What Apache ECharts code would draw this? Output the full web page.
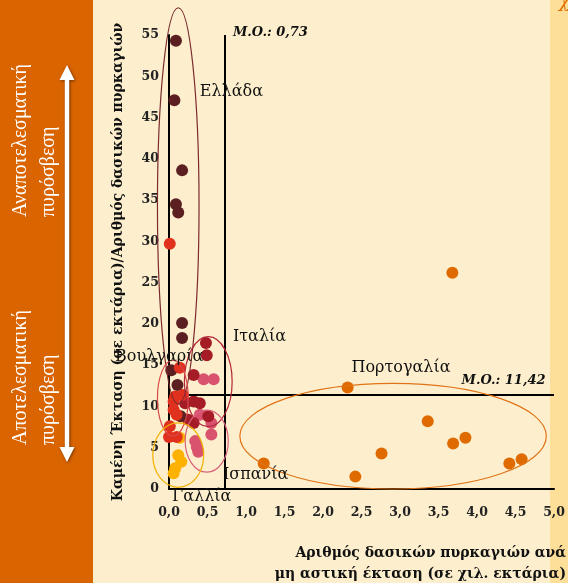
<!DOCTYPE html>
<html><head><meta charset="utf-8">
<script src="https://cdn.jsdelivr.net/npm/echarts@6/dist/echarts.min.js"></script>
<style>html,body{margin:0;padding:0;background:#FDEFCD}#c{width:568px;height:583px}</style>
</head><body><div id="c"></div>
<script>
// ---- data ----
const xTicks = [0, 0.5, 1, 1.5, 2, 2.5, 3, 3.5, 4, 4.5, 5];
const yTicks = [0, 5, 10, 15, 20, 25, 30, 35, 40, 45, 50, 55];
const greece   = [[0.09,54.3],[0.07,47.1],[0.17,38.6],[0.09,34.5],[0.12,33.5],[0.17,20.1],[0.17,18.3],[0.03,14.4],[0.11,12.6],[0.15,8.8]];
const bulgaria = [[0.01,29.7],[0.14,14.7],[0.18,11.4],[0.08,11.2],[0.06,10.6],[0.06,9.6],[0.10,9.0],[0.01,7.6],[0.0,6.3],[0.10,6.3]];
const italy    = [[0.48,17.7],[0.49,16.2],[0.32,13.8],[0.21,10.4],[0.32,10.6],[0.40,10.4],[0.51,8.8],[0.32,8.0],[0.25,8.4]];
const spain    = [[0.45,13.3],[0.58,13.3],[0.40,9.0],[0.55,8.0],[0.55,6.6],[0.34,5.8],[0.36,5.1],[0.38,4.5]];
const france   = [[0.14,6.2],[0.12,4.1],[0.16,3.3],[0.08,2.5],[0.06,1.9]];
const portugal = [[2.32,12.3],[3.36,8.2],[3.69,5.5],[3.85,6.2],[2.76,4.3],[1.23,3.1],[2.42,1.5],[4.42,3.1],[4.58,3.6],[3.68,26.2]];
const meanX = 0.73;
const meanY = 11.42;
const countryNames = ['Ελλάδα','Ιταλία','Βουλγαρία','Πορτογαλία','Ισπανία','Γαλλία'];
const meanLabels = ['M.O.: 0,73', 'M.O.: 11,42'];
const xTitle = 'Αριθμός δασικών πυρκαγιών ανά\nμη αστική έκταση (σε χιλ. εκτάρια)';
const yTitle = 'Καμένη Έκταση (σε εκτάρια)/Αριθμός δασικών πυρκαγιών';
const bandTop = 'Αναποτελεσματική\nπυρόσβεση';
const bandBottom = 'Αποτελεσματική\nπυρόσβεση';
// group ellipses in data units: [cx, cy, rx, ry]
const ellipses = [
  {c:[0.12,34.3], r:[0.27,24.0], color:'#7A2A2C'},
  {c:[0.51,13.0], r:[0.31,5.45], color:'#B3263A'},
  {c:[0.05,11.0], r:[0.20,4.6], color:'#D84848'},
  {c:[0.49,5.8], r:[0.28,3.76], color:'#D9607C'},
  {c:[0.12,4.1], r:[0.33,3.9], color:'#F2B000'},
  {c:[2.91,6.4], r:[1.99,6.4], color:'#E07318'}
];
// label anchors in data units
const labelPos = [[0.40,48.1],[0.83,18.4],[-0.70,16.0],[2.37,14.7],[0.70,1.7],[0.04,-1.0]];

const SERIF = '"DejaVu Serif", serif';
const chart = echarts.init(document.getElementById('c'));
function sc(name, data, color, z) {
  return {type:'scatter', name, data, symbolSize:12, z:z,
    itemStyle:{color:color, opacity:1}, silent:true};
}
const option = {
  animation:false,
  backgroundColor:'#FDEFCD',
  grid:{left:169, right:14, top:35, bottom:94},
  xAxis:{type:'value', min:0, max:5, interval:0.5,
    axisLine:{lineStyle:{color:'#000', width:2}}, axisTick:{show:false}, splitLine:{show:false},
    axisLabel:{margin:17, color:'#222', fontFamily:SERIF, fontWeight:'bold', fontSize:12.5,
      formatter:v=>v.toFixed(1).replace('.',',')}},
  yAxis:{type:'value', min:0, max:55, interval:5,
    axisLine:{show:true, lineStyle:{color:'#000', width:2}}, axisTick:{show:false}, splitLine:{show:false},
    axisLabel:{margin:10, color:'#222', fontFamily:SERIF, fontWeight:'bold', fontSize:12.5}},
  series:[
    Object.assign(sc('Πορτογαλία', portugal, '#DE6A00', 2), {
      markLine:{silent:true, symbol:'none', label:{show:false},
        lineStyle:{color:'#000', width:2, type:'solid'},
        data:[{xAxis:meanX},{yAxis:meanY}]}}),
    sc('Γαλλία', france, '#FDB100', 3),
    sc('Ισπανία', spain, '#D9536F', 3),
    sc('Ιταλία', italy, '#A51C26', 4),
    sc('Ελλάδα', greece, '#5B1F22', 5),
    sc('Βουλγαρία', bulgaria, '#E0311E', 6)
  ]
};
chart.setOption(option);

const px = p => chart.convertToPixel({gridIndex:0}, p);
const g = [];
// background pieces
g.push({type:'rect', z:-10, shape:{x:0,y:0,width:93,height:583}, style:{fill:'#D96400'}});
g.push({type:'rect', z:-10, shape:{x:550,y:0,width:18,height:583}, style:{fill:'#FDDF9A'}});
g.push({type:'text', z:-5, left:559, top:-7, style:{text:'χ', fill:'#E07000', font:'italic 18px '+SERIF}});
// arrow
g.push({type:'polygon', z:5, shape:{points:[[67,65],[74.5,80],[69.2,80],[69.2,447],[74.5,447],[67,462],[59.5,447],[64.8,447],[64.8,80],[59.5,80]]},
  style:{fill:'#fff', shadowBlur:3, shadowColor:'rgba(0,0,0,0.45)', shadowOffsetX:1, shadowOffsetY:1}});
// band texts
g.push({type:'text', z:5, x:7, y:217, rotation:Math.PI/2,
  style:{text:bandTop, fill:'#fff', font:'20px "Liberation Serif", serif', lineHeight:28, textAlign:'left', textVerticalAlign:'top'}});
g.push({type:'text', z:5, x:7, y:445, rotation:Math.PI/2,
  style:{text:bandBottom, fill:'#fff', font:'20px "Liberation Serif", serif', lineHeight:28, textAlign:'left', textVerticalAlign:'top'}});
// axis titles
g.push({type:'text', z:5, x:118, y:262, rotation:Math.PI/2,
  style:{text:yTitle, fill:'#111', font:'bold 14px '+SERIF, textAlign:'center', textVerticalAlign:'middle'}});
g.push({type:'text', z:5, x:566, y:543,
  style:{text:xTitle, fill:'#111', font:'bold 14px '+SERIF, lineHeight:21, textAlign:'right', textVerticalAlign:'top'}});
// ellipses
ellipses.forEach(e => {
  const c = px(e.c), ex = px([e.c[0]+e.r[0], e.c[1]]), ey = px([e.c[0], e.c[1]+e.r[1]]);
  g.push({type:'ellipse', z:10, silent:true, shape:{cx:c[0], cy:c[1], rx:Math.abs(ex[0]-c[0]), ry:Math.abs(c[1]-ey[1])},
    style:{fill:'none', stroke:e.color, lineWidth:1.2}});
});
// country labels
countryNames.forEach((n,i) => {
  const p = px(labelPos[i]);
  g.push({type:'text', z:12, x:p[0], y:p[1], style:{text:n, fill:'#111', font:'16px '+SERIF, textAlign:'left', textVerticalAlign:'middle'}});
});
// mean labels
const m1 = px([0.83, 55.3]);
g.push({type:'text', z:12, x:m1[0], y:m1[1], style:{text:meanLabels[0], fill:'#111', font:'italic bold 13px '+SERIF, textAlign:'left', textVerticalAlign:'middle'}});
const m2 = px([4.89, 13.1]);
g.push({type:'text', z:12, x:m2[0], y:m2[1], style:{text:meanLabels[1], fill:'#111', font:'italic bold 13px '+SERIF, textAlign:'right', textVerticalAlign:'middle'}});
chart.setOption({graphic:{elements:g}});
</script></body></html>
